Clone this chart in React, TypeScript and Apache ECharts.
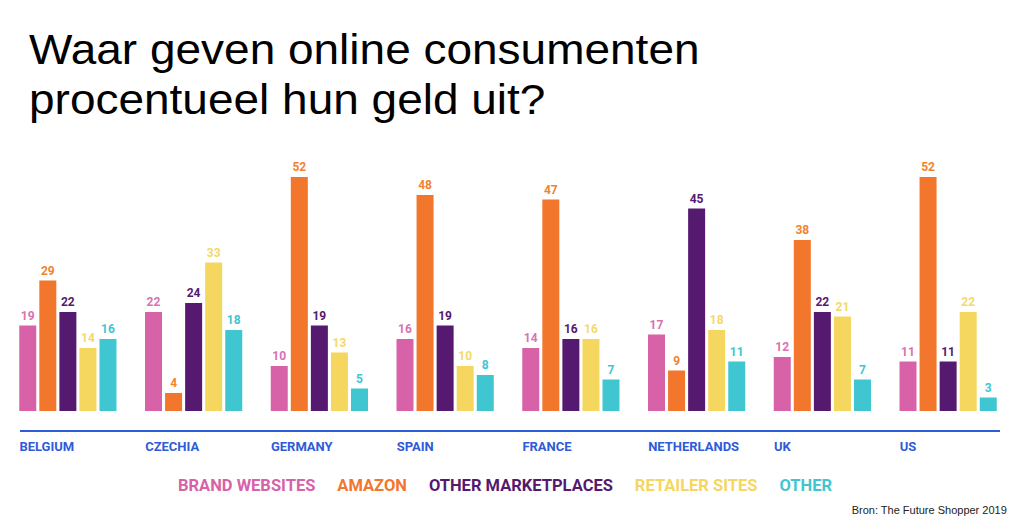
import React, { useEffect, useRef } from "react";
import * as echarts from "echarts";

const countries = ["BELGIUM", "CZECHIA", "GERMANY", "SPAIN", "FRANCE", "NETHERLANDS", "UK", "US"];
const seriesNames = ["BRAND WEBSITES", "AMAZON", "OTHER MARKETPLACES", "RETAILER SITES", "OTHER"];
const brandWebsites = [19, 22, 10, 16, 14, 17, 12, 11];
const amazon = [29, 4, 52, 48, 47, 9, 38, 52];
const otherMarketplaces = [22, 24, 19, 19, 16, 45, 22, 11];
const retailerSites = [14, 33, 13, 10, 16, 18, 21, 22];
const other = [16, 18, 5, 8, 7, 11, 7, 3];
const seriesValues = [brandWebsites, amazon, otherMarketplaces, retailerSites, other];
const colors = ["#D862A8", "#F2762C", "#55196F", "#F5D65E", "#3FC6D1"];
const labelColors = ["#D872B2", "#F2822E", "#55196F", "#F5D868", "#3FC6D1"];
const titleLines = ["Waar geven online consumenten", "procentueel hun geld uit?"];

export default function App() {
  const ref = useRef<HTMLDivElement>(null);
  useEffect(() => {
    if (!ref.current) return;
    const chart = echarts.init(ref.current, null, { renderer: "svg" });
    const condensed = "Roboto";
    chart.setOption({
      animation: false,
      backgroundColor: "#ffffff",
      title: [
        {
          text: "Bron: The Future Shopper 2019",
          right: 12,
          top: 499,
          textStyle: {
            fontFamily: "Liberation Sans",
            fontWeight: "normal",
            fontSize: 11,
            color: "#222222",
          },
        },
      ],
      legend: {
        top: 472,
        left: 168,
        itemWidth: 0,
        itemHeight: 0,
        itemGap: 17,
        icon: "rect",
        selectedMode: false,
        data: seriesNames.map((n, i) => ({
          name: n,
          textStyle: {
            color: colors[i],
            fontFamily: condensed,
            fontWeight: "bold",
            fontSize: 16.5,
          },
        })),
      },
      grid: { left: 5, right: 13, top: 141, bottom: 112 },
      xAxis: {
        type: "category",
        data: countries,
        axisLine: { show: false },
        axisTick: { show: false },
        axisLabel: {
          interval: 0,
          margin: 29,
          align: "center",
          formatter: (v: string) => `{a|${v}}`,
          rich: {
            a: {
              width: 97,
              align: "left",
              color: "#2F5BD8",
              fontFamily: condensed,
              fontWeight: "bold",
              fontSize: 13,
            },
          },
        },
      },
      yAxis: {
        type: "value",
        min: 0,
        max: 60,
        show: false,
        splitLine: { show: false },
      },
      graphic: [
        {
          type: "line",
          shape: { x1: 20, y1: 431, x2: 1000, y2: 431 },
          style: { stroke: "#2F5BD8", lineWidth: 2 },
        },
        ...titleLines.map((t, i) => ({
          type: "text",
          x: 29,
          y: 49 + i * 50,
          scaleX: 1.095,
          style: {
            text: t,
            fontFamily: "Liberation Sans",
            fontSize: 42,
            fill: "#000000",
            verticalAlign: "middle",
            align: "left",
          },
        })),
      ],
      series: seriesNames.map((n, i) => ({
        name: n,
        type: "bar",
        data: seriesValues[i],
        barWidth: 17,
        barGap: "18%",
        itemStyle: { color: colors[i] },
        label: {
          show: true,
          position: "top",
          distance: 4,
          color: labelColors[i],
          fontFamily: condensed,
          fontWeight: "bold",
          fontSize: 12,
        },
      })),
    });
    return () => chart.dispose();
  }, []);
  return (
    <div
      ref={ref}
      style={{ position: "fixed", left: 0, top: 0, width: 1024, height: 523 }}
    />
  );
}
